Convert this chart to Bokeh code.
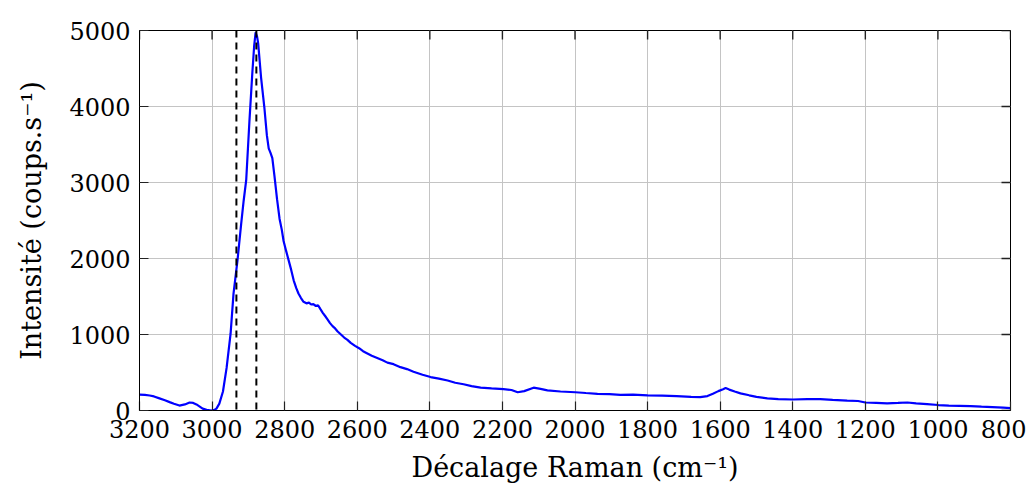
import math
from bokeh.plotting import figure
from bokeh.models import Range1d, FixedTicker, Span
from bokeh.embed import file_html
from bokeh.resources import INLINE

# Raman shift (cm^-1) and intensity (counts/s)
shift = [3200, 3185, 3172, 3160, 3145, 3130, 3117, 3105, 3090, 3075, 3062, 3052, 3043, 3035,
         3026, 3015, 3002, 2995, 2988, 2980, 2970, 2960, 2949, 2941, 2930, 2920, 2913, 2906,
         2897, 2889, 2884, 2880, 2876, 2873, 2865, 2856, 2849, 2844, 2839, 2834, 2828, 2821,
         2814, 2808, 2803, 2796, 2789, 2782, 2775, 2768, 2762, 2755, 2748, 2740, 2733, 2727,
         2721, 2714, 2708, 2701, 2695, 2688, 2682, 2675, 2668, 2661, 2654, 2645, 2636, 2627,
         2618, 2606, 2595, 2584, 2572, 2560, 2545, 2530, 2517, 2500, 2481, 2463, 2445, 2420,
         2398, 2375, 2351, 2330, 2307, 2285, 2260, 2230, 2197, 2175, 2158, 2140, 2114, 2095,
         2076, 2040, 1999, 1970, 1938, 1905, 1875, 1840, 1800, 1760, 1720, 1680, 1655, 1635,
         1620, 1605, 1592, 1585, 1575, 1560, 1544, 1520, 1500, 1470, 1440, 1400, 1360, 1324,
         1290, 1250, 1220, 1200, 1170, 1140, 1110, 1084, 1060, 1030, 999, 970, 940, 910,
         880, 850, 820, 800]
intensity = [210, 205, 197, 185, 160, 135, 110, 88, 65, 80, 105, 100, 80, 55,
             25, 10, 0, 5, 25, 90, 250, 560, 1010, 1535, 1975, 2450, 2760, 3030,
             3815, 4450, 4800, 4975, 4920, 4830, 4380, 3990, 3620, 3450, 3390, 3320, 3080, 2780,
             2520, 2380, 2230, 2100, 1975, 1850, 1710, 1610, 1540, 1480, 1430, 1410, 1420, 1395,
             1400, 1375, 1385, 1330, 1285, 1240, 1200, 1150, 1110, 1080, 1040, 1000, 960, 930,
             890, 850, 820, 780, 750, 720, 690, 660, 630, 610, 570, 545, 510, 470,
             440, 420, 395, 365, 345, 320, 300, 290, 280, 270, 240, 255, 300, 285,
             265, 250, 240, 230, 220, 215, 205, 210, 200, 195, 190, 180, 175, 190,
             220, 255, 280, 295, 275, 250, 225, 200, 180, 160, 150, 145, 150, 150,
             140, 130, 125, 105, 100, 95, 100, 105, 95, 85, 72, 65, 62, 58,
             50, 45, 38, 30]

x_ticks = [3200, 3000, 2800, 2600, 2400, 2200, 2000, 1800, 1600, 1400, 1200, 1000, 800]
y_ticks = [0, 1000, 2000, 3000, 4000, 5000]
marker_lines = [2933, 2878]

FONT = "DejaVu Serif"
TICK_FS = "24px"
LABEL_FS = "27px"

p = figure(width=1026, height=494, output_backend="svg", toolbar_location=None,
           x_range=Range1d(3200, 800), y_range=Range1d(0, 5000),
           min_border_left=139, min_border_top=30, min_border_right=16, min_border_bottom=84,
           x_axis_label="Décalage Raman (cm⁻¹)", y_axis_label="Intensité (coups.s⁻¹)")

p.outline_line_color = "black"
p.outline_line_width = 1
p.background_fill_color = "white"
p.border_fill_color = "white"

for g in (p.xgrid[0], p.ygrid[0]):
    g.grid_line_color = "#c4c4c4"
    g.grid_line_width = 1
p.xgrid[0].ticker = FixedTicker(ticks=x_ticks)
p.ygrid[0].ticker = FixedTicker(ticks=y_ticks)

for ax, ticks in ((p.xaxis[0], x_ticks), (p.yaxis[0], y_ticks)):
    ax.ticker = FixedTicker(ticks=ticks)
    ax.major_tick_in = 9
    ax.major_tick_out = 0
    ax.minor_tick_in = 0
    ax.minor_tick_out = 0
    ax.major_tick_line_color = "#222222"
    ax.major_tick_line_width = 1.2
    ax.axis_line_color = "black"
    ax.axis_line_width = 1
    ax.major_label_text_font = FONT
    ax.major_label_text_font_size = TICK_FS
    ax.major_label_text_color = "black"
    ax.major_label_standoff = 9
    ax.axis_label_text_font = FONT
    ax.axis_label_text_font_style = "normal"
    ax.axis_label_text_font_size = LABEL_FS
    ax.axis_label_text_color = "black"
p.xaxis[0].axis_label_standoff = 11
p.yaxis[0].axis_label_standoff = 19

# mirrored inward ticks on top and right edges (markers clipped by the frame)
p.scatter(x_ticks, [5000] * len(x_ticks), marker="dash", size=18, angle=math.pi / 2,
          line_color="#222222", line_width=1.4)
p.scatter([800] * len(y_ticks), y_ticks, marker="dash", size=18,
          line_color="#222222", line_width=1.4)

p.line(shift, intensity, line_color="#0000ff", line_width=2.2)

for m in marker_lines:
    p.add_layout(Span(location=m, dimension="height", line_color="black",
                      line_width=2, line_dash="7 5"))

open("out.html", "w").write(file_html(p, INLINE))
